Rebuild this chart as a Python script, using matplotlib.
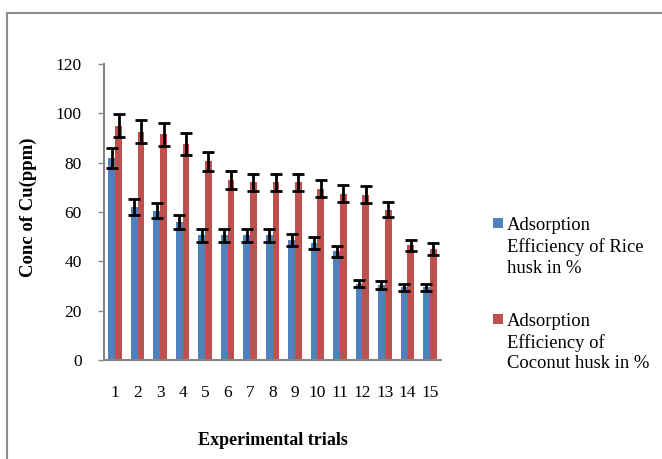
import numpy as np
import matplotlib
matplotlib.use('Agg')
import matplotlib.pyplot as plt
from matplotlib.patches import Rectangle

# values
trials = list(range(1, 16))
rice = [82, 62, 60.5, 56, 50.5, 50.5, 50.5, 50.5, 48.5, 47.5, 44, 31, 30.5, 29.5, 29.5]
coconut = [95, 92.5, 91.5, 87.5, 80.5, 73, 72, 72, 72, 69.5, 67.5, 67, 61, 46.5, 45]
err_pct = 0.05  # Excel style 5% error bars

rice_label = 'Adsorption\nEfficiency of Rice\nhusk in %'
coco_label = 'Adsorption\nEfficiency of\nCoconut husk in %'
blue = '#4F81BD'
red = '#C0504D'

plt.rcParams['font.family'] = ['Liberation Serif', 'DejaVu Serif']

fig = plt.figure(figsize=(6.62, 4.59), dpi=100)
ax = fig.add_axes([104 / 662, 1 - 360 / 459, 337 / 662, 296 / 459])

x = np.array(trials)
w = 0.3
ekw = dict(ecolor='black', elinewidth=2, capsize=4, capthick=2)
ax.bar(x - w / 2, rice, w, color=blue, yerr=np.array(rice) * err_pct, error_kw=ekw)
ax.bar(x + w / 2, coconut, w, color=red, yerr=np.array(coconut) * err_pct, error_kw=ekw)

ax.set_xlim(0.5, 15.5)
ax.set_ylim(0, 120)
ax.set_yticks(range(0, 121, 20))
ax.set_xticks(trials)
ax.tick_params(axis='x', length=0, pad=18, labelsize=12.5)
ax.tick_params(axis='y', length=4, width=1, color='#868686', pad=12, labelsize=12.5)
for s in ['top', 'right']:
    ax.spines[s].set_visible(False)
for s in ['left', 'bottom']:
    ax.spines[s].set_color('#868686')
    ax.spines[s].set_linewidth(1.5)

ax.set_ylabel('Conc of Cu(ppm)', fontsize=13.5, fontweight='bold')
ax.yaxis.set_label_coords(-67 / 337, 0.517)
ax.set_xlabel('Experimental trials', fontsize=13, fontweight='bold', labelpad=22)

# legend, squares level with the first line of each label
for i, (lab, col) in enumerate([(rice_label, blue), (coco_label, red)]):
    yc = 1 - (223 + 95.5 * i) / 459
    fig.patches.append(Rectangle((493 / 662, yc - 5 / 459), 10 / 662, 10 / 459,
                                 transform=fig.transFigure, facecolor=col,
                                 edgecolor='none'))
    fig.text(507 / 662, yc + 6 / 459, lab, fontsize=13.4, va='top', ha='left',
             linespacing=1.3)

# outer chart frame
fig.patches.append(Rectangle((7 / 662, -0.1), 1.0, 1 - 13 / 459 + 0.1,
                             transform=fig.transFigure, fill=False,
                             edgecolor='#8c8c8c', linewidth=1.5))

fig.savefig('out.png', dpi=100)
